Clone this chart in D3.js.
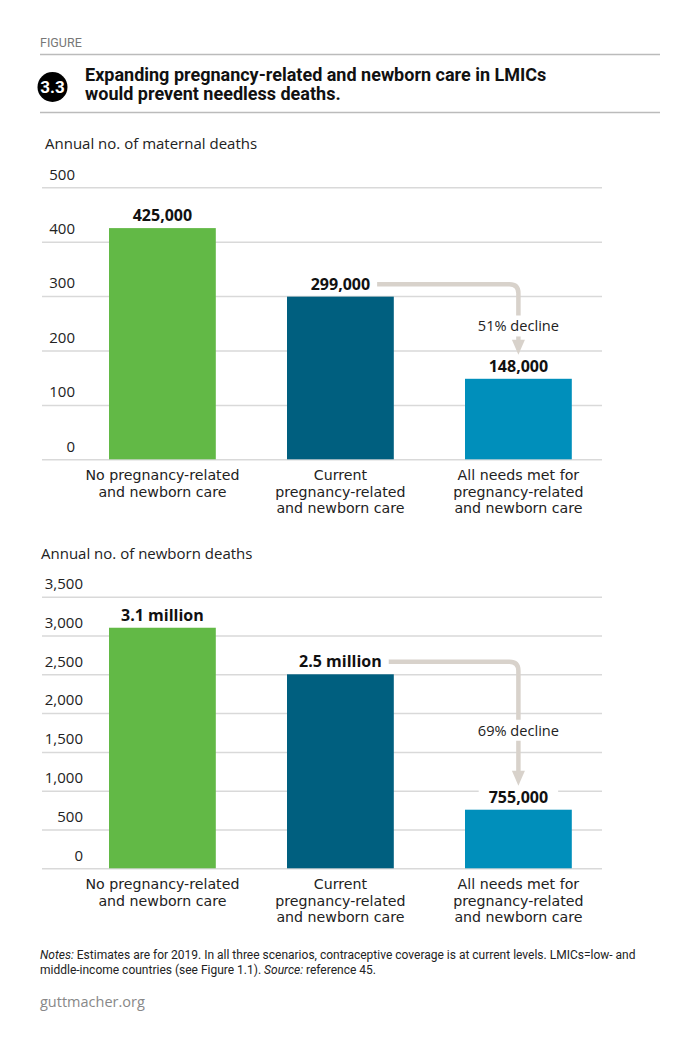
<!DOCTYPE html>
<html>
  <head>
    <meta charset="utf-8" />
    <title>Figure 3.3</title>
    <script src="https://d3js.org/d3.v7.min.js"></script>
    <style>
      body {
        margin: 0;
        background: #fff;
      }
      text {
        font-family: "Open Sans", "DejaVu Sans", sans-serif;
        fill: #222;
      }
      text.narrow {
        font-family: Roboto, "Liberation Sans", sans-serif;
      }
      text.cat {
        font-family: "DejaVu Sans", sans-serif;
      }
      .gridlines line {
        stroke: #d9d9d9;
        stroke-width: 1.5px;
      }
      .gridlines path {
        display: none;
      }
    </style>
  </head>
  <body>
    <svg id="chart" width="700" height="1052"></svg>

    <script>
      // categories, one line of text per entry
      const categories = [
        ["No pregnancy-related", "and newborn care"],
        ["Current", "pregnancy-related", "and newborn care"],
        ["All needs met for", "pregnancy-related", "and newborn care"],
      ];
      const catKeys = ["none", "current", "allMet"];
      const barColors = ["#62b946", "#005f7f", "#008fbb"];

      // maternal deaths (thousands)
      const maternalValues = [425, 299, 148];
      const maternalLabels = ["425,000", "299,000", "148,000"];
      const maternalTicks = [0, 100, 200, 300, 400, 500];

      // newborn deaths (thousands)
      const newbornValues = [3100, 2500, 755];
      const newbornLabels = ["3.1 million", "2.5 million", "755,000"];
      const newbornTicks = [0, 500, 1000, 1500, 2000, 2500, 3000, 3500];

      const declineLabels = ["51% decline", "69% decline"];

      const svg = d3.select("svg#chart");
      const gridLeft = 42;
      const gridRight = 602;
      const arrowColor = "#d8d2cb";

      const x = d3
        .scaleBand()
        .domain(catKeys)
        .range([73.4, 607.4])
        .paddingInner(0.4)
        .paddingOuter(0.2);

      // header
      svg
        .append("text")
        .attr("x", 40)
        .attr("y", 47)
        .attr("class", "narrow")
        .attr("font-size", "12.5px")
        .style("fill", "#777")
        .text("FIGURE");
      svg
        .append("line")
        .attr("x1", 40)
        .attr("x2", 660)
        .attr("y1", 54.5)
        .attr("y2", 54.5)
        .attr("stroke", "#bbb")
        .attr("stroke-width", 1.5);
      svg
        .append("line")
        .attr("x1", 40)
        .attr("x2", 660)
        .attr("y1", 112.5)
        .attr("y2", 112.5)
        .attr("stroke", "#bbb")
        .attr("stroke-width", 1.5);
      svg
        .append("circle")
        .attr("cx", 52.5)
        .attr("cy", 87)
        .attr("r", 15)
        .attr("fill", "#000");
      svg
        .append("text")
        .attr("x", 52.5)
        .attr("y", 93)
        .attr("class", "narrow")
        .attr("text-anchor", "middle")
        .attr("font-size", "17px")
        .attr("font-weight", "bold")
        .style("fill", "#fff")
        .text("3.3");
      const title = svg
        .append("text")
        .attr("class", "narrow")
        .attr("font-size", "18px")
        .attr("font-weight", "bold")
        .style("fill", "#111");
      title
        .append("tspan")
        .attr("x", 85)
        .attr("y", 81)
        .text("Expanding pregnancy-related and newborn care in LMICs");
      title
        .append("tspan")
        .attr("x", 85)
        .attr("y", 100)
        .text("would prevent needless deaths.");

      function drawPanel(cfg) {
        const y = d3
          .scaleLinear()
          .domain([0, cfg.ticks[cfg.ticks.length - 1]])
          .range([cfg.bottom, cfg.top]);

        svg
          .append("text")
          .attr("x", cfg.titleX)
          .attr("y", cfg.top - 38)
          .attr("font-size", "15px")
          .text(cfg.title);

        const grid = d3
          .axisLeft(y)
          .tickValues(cfg.ticks)
          .tickSize(-(gridRight - gridLeft))
          .tickFormat(d3.format(","));
        const g = svg
          .append("g")
          .attr("class", "gridlines")
          .attr("transform", `translate(${gridLeft},0)`)
          .call(grid);
        g.selectAll(".tick text")
          .attr("x", cfg.tickRight - gridLeft)
          .attr("dy", "-0.55em")
          .attr("text-anchor", "end")
          .attr("font-size", "15px")
          .style("fill", "#222");

        const data = catKeys.map((k, i) => ({
          key: k,
          value: cfg.values[i],
          label: cfg.labels[i],
          color: barColors[i],
          cat: categories[i],
        }));

        svg
          .selectAll(null)
          .data(data)
          .join("rect")
          .attr("x", (d) => x(d.key))
          .attr("y", (d) => y(d.value))
          .attr("width", x.bandwidth())
          .attr("height", (d) => y(0) - y(d.value))
          .attr("fill", (d) => d.color);

        // value labels with white box behind
        const labels = svg
          .selectAll(null)
          .data(data)
          .join("g")
          .attr(
            "transform",
            (d) => `translate(${x(d.key) + x.bandwidth() / 2},${y(d.value) - 7})`
          );
        const boxes = labels.append("rect").attr("fill", "#fff");
        const valTexts = labels
          .append("text")
          .attr("text-anchor", "middle")
          .attr("font-size", "16px")
          .attr("font-weight", "bold")
          .style("fill", "#111")
          .text((d) => d.label);
        valTexts.each(function (d) {
          d.w = this.getComputedTextLength();
        });
        boxes
          .attr("x", (d) => -d.w / 2 - 10)
          .attr("width", (d) => d.w + 20)
          .attr("y", -14)
          .attr("height", 18);

        // category labels
        svg
          .selectAll(null)
          .data(data)
          .join("text")
          .attr("class", "cat")
          .attr("text-anchor", "middle")
          .attr("font-size", "14.2px")
          .each(function (d) {
            d3.select(this)
              .selectAll("tspan")
              .data(d.cat)
              .join("tspan")
              .attr("x", x(d.key) + x.bandwidth() / 2)
              .attr("y", (t, i) => y(0) + 20.5 + i * 16.8)
              .text((t) => t);
          });

        // decline arrow
        const from = data[1];
        const to = data[2];
        const hy = y(from.value) - 12.5;
        const sx = x(from.key) + x.bandwidth() / 2 + from.w / 2 + 7;
        const ax = x(to.key) + x.bandwidth() / 2;
        const tip = y(to.value) - 24;
        const textY = (hy + tip) / 2 + 7;
        const rr = 9;
        const headLen = 15;
        svg
          .append("path")
          .attr(
            "d",
            `M${sx},${hy} H${ax - rr} Q${ax},${hy} ${ax},${hy + rr} V${
              textY - 11
            }`
          )
          .attr("fill", "none")
          .attr("stroke", arrowColor)
          .attr("stroke-width", 4.5);
        svg
          .append("path")
          .attr("d", `M${ax},${textY + 10} V${tip - headLen + 2}`)
          .attr("fill", "none")
          .attr("stroke", arrowColor)
          .attr("stroke-width", 4.5);
        svg
          .append("path")
          .attr(
            "d",
            `M${ax - 6.5},${tip - headLen} L${ax + 6.5},${tip - headLen} L${ax},${tip} Z`
          )
          .attr("fill", arrowColor);
        svg
          .append("text")
          .attr("x", ax)
          .attr("y", textY + 5)
          .attr("text-anchor", "middle")
          .attr("font-size", "14.6px")
          .text(cfg.decline);
      }

      drawPanel({
        title: "Annual no. of maternal deaths",
        titleX: 45,
        top: 187.3,
        bottom: 459.3,
        ticks: maternalTicks,
        tickRight: 75,
        values: maternalValues,
        labels: maternalLabels,
        decline: declineLabels[0],
      });

      drawPanel({
        title: "Annual no. of newborn deaths",
        titleX: 41,
        top: 596.7,
        bottom: 868.3,
        ticks: newbornTicks,
        tickRight: 83,
        values: newbornValues,
        labels: newbornLabels,
        decline: declineLabels[1],
      });

      // notes
      const notes = svg
        .append("text")
        .attr("class", "narrow")
        .attr("font-size", "12px")
        .style("fill", "#222");
      const n1 = notes.append("tspan").attr("x", 40).attr("y", 959);
      n1.append("tspan").attr("font-style", "italic").text("Notes:");
      n1.append("tspan").text(
        " Estimates are for 2019. In all three scenarios, contraceptive coverage is at current levels. LMICs=low- and"
      );
      const n2 = notes.append("tspan").attr("x", 40).attr("y", 974);
      n2.append("tspan").text("middle-income countries (see Figure 1.1). ");
      n2.append("tspan").attr("font-style", "italic").text("Source:");
      n2.append("tspan").text(" reference 45.");

      svg
        .append("text")
        .attr("x", 40)
        .attr("y", 1007)
        .attr("font-size", "14.5px")
        .style("fill", "#888")
        .text("guttmacher.org");
    </script>
  </body>
</html>
